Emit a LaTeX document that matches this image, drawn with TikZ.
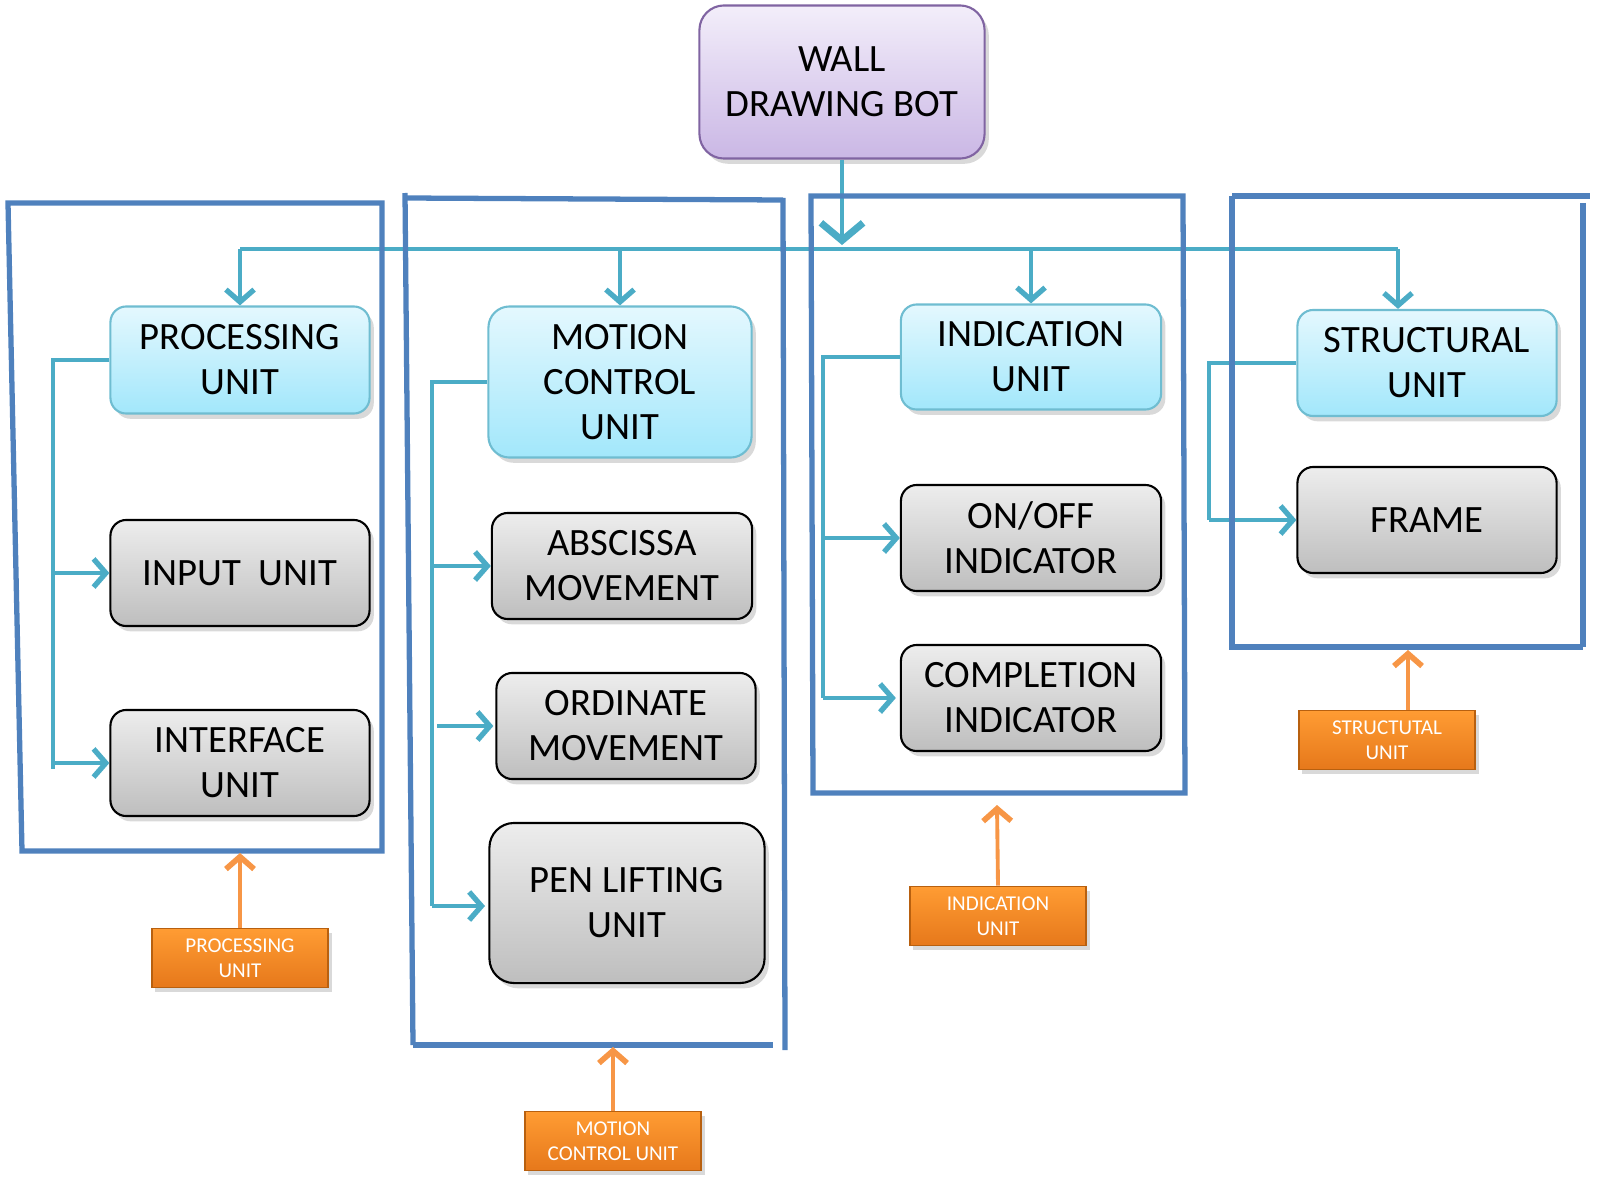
\documentclass[tikz,border=0pt]{standalone}
\usepackage{fontspec}
\setmainfont{Carlito}
\usetikzlibrary{arrows.meta,shadows,calc}
\definecolor{frameblue}{HTML}{4F81BD}
\definecolor{cyanline}{HTML}{4BACC6}
\definecolor{cyanTop}{HTML}{E4F8FE}
\definecolor{cyanBot}{HTML}{A2E7FB}
\definecolor{grayTop}{HTML}{EDEDED}
\definecolor{grayBot}{HTML}{BEBEBE}
\definecolor{purpTop}{HTML}{F3EEFA}
\definecolor{purpBot}{HTML}{CAB7E5}
\definecolor{purpEdge}{HTML}{8064A2}
\definecolor{orTop}{HTML}{FF9C33}
\definecolor{orBot}{HTML}{E6781B}
\definecolor{orEdge}{HTML}{B8600F}
\definecolor{orArrow}{HTML}{F79646}
\begin{document}
\begin{tikzpicture}[x=0.01cm,y=-0.01cm,
  box/.style={rectangle, rounded corners=4.5pt, align=center, inner sep=0pt,
    font=\fontsize{11}{12.8}\selectfont,
    drop shadow={shadow xshift=1.2pt, shadow yshift=-1.5pt, opacity=0.3}},
  cyanbox/.style={box, draw=cyanline!80, line width=0.6pt, top color=cyanTop, bottom color=cyanBot},
  graybox/.style={box, draw=black, line width=0.6pt, top color=grayTop, bottom color=grayBot},
  purplebox/.style={box, rounded corners=7pt, draw=purpEdge, line width=0.6pt, top color=purpTop, bottom color=purpBot},
  orangebox/.style={rectangle, align=center, inner sep=0pt, text=white,
    font=\fontsize{6}{7}\selectfont, draw=orEdge, line width=0.5pt,
    top color=orTop, bottom color=orBot,
    drop shadow={shadow xshift=1pt, shadow yshift=-1.2pt, opacity=0.3},
    minimum width=1.76cm, minimum height=0.59cm},
  conn/.style={draw=cyanline, line width=1pt},
  arr/.style={conn, -{Straight Barb[length=3.5pt,width=8pt,line width=1.5pt]}},
  bigarr/.style={draw=cyanline, line width=1.3pt, -{Straight Barb[length=5pt,width=12pt,line width=2pt]}},
  oarr/.style={draw=orArrow, line width=1.1pt, -{Straight Barb[length=3.5pt,width=8pt,line width=1.6pt]}},
  frm/.style={draw=frameblue, line width=1.5pt}
]
\useasboundingbox (0,0) rectangle (1597,1194);

% main nodes
\node[purplebox, minimum width=2.85cm, minimum height=1.53cm] (wall) at (842,82) {WALL\\DRAWING BOT};

\node[cyanbox, minimum width=2.59cm, minimum height=1.07cm] (pu) at (240,360) {PROCESSING\\UNIT};
\node[graybox, minimum width=2.59cm, minimum height=1.06cm] (iu) at (240,573) {INPUT~~UNIT};
\node[graybox, minimum width=2.59cm, minimum height=1.06cm] (ifu) at (240,763) {INTERFACE\\UNIT};

\node[cyanbox, rounded corners=6pt, minimum width=2.63cm, minimum height=1.51cm] (mcu) at (620,382) {MOTION\\CONTROL\\UNIT};
\node[graybox, minimum width=2.60cm, minimum height=1.06cm] (abs) at (622,566) {ABSCISSA\\MOVEMENT};
\node[graybox, minimum width=2.59cm, minimum height=1.06cm] (ord) at (626,726) {ORDINATE\\MOVEMENT};
\node[graybox, rounded corners=7pt, minimum width=2.75cm, minimum height=1.60cm] (pen) at (627,903) {PEN LIFTING\\UNIT};

\node[cyanbox, minimum width=2.60cm, minimum height=1.05cm] (ind) at (1031,357) {INDICATION\\UNIT};
\node[graybox, minimum width=2.60cm, minimum height=1.06cm] (onoff) at (1031,538) {ON/OFF\\INDICATOR};
\node[graybox, minimum width=2.60cm, minimum height=1.06cm] (comp) at (1031,698) {COMPLETION\\INDICATOR};

\node[cyanbox, minimum width=2.59cm, minimum height=1.06cm] (str) at (1427,363) {STRUCTURAL\\UNIT};
\node[graybox, minimum width=2.59cm, minimum height=1.06cm] (frame) at (1427,520) {FRAME};

% orange labels
\node[orangebox] (opu) at (240,958) {PROCESSING\\UNIT};
\node[orangebox] (omc) at (613,1141) {MOTION\\CONTROL UNIT};
\node[orangebox] (oind) at (998,916) {INDICATION\\UNIT};
\node[orangebox] (ostr) at (1387,740) {STRUCTUTAL\\UNIT};

% top distribution bus
\coordinate (busL) at (240,249);
\coordinate (busR) at (1398,249);
\draw[conn] (busL) -- (busR);
\draw[bigarr] (wall.south) -- ($(wall.south |- busL)+(0,-4)$);
\draw[arr] (busL) -- (pu.north);
\draw[arr] (mcu.north |- busL) -- (mcu.north);
\draw[arr] (ind.north |- busL) -- (ind.north);
\draw[arr] (busR) -- (busR |- str.north);

% processing column
\coordinate (pb) at (53,360);
\draw[conn] (pu.west) -- (pb) -- (53,769);
\draw[arr] (pb |- iu.west) -- (iu.west);
\draw[arr] (pb |- ifu.west) -- (ifu.west);

% motion column
\coordinate (mb) at (432,382);
\draw[conn] (mcu.west) -- (mb) -- (432,906);
\draw[arr] (mb |- abs.west) -- (abs.west);
\draw[arr] ($(mb |- ord.west)+(5,0)$) -- ($(ord.west)+(-2,0)$);
\draw[arr] (432,906) -- (485,906);

% indication column
\coordinate (ib) at (823,357);
\draw[conn] (ind.west) -- (ib) -- (823,698);
\draw[arr] (ib |- onoff.west) -- (onoff.west);
\draw[arr] (ib |- comp.west) -- ($(comp.west)+(-4,0)$);

% structural column
\coordinate (sb) at (1209,363);
\draw[conn] (str.west) -- (sb) -- (1209,520);
\draw[arr] (sb |- frame.west) -- (frame.west);

% frames
\draw[frm] (8,203) -- (382,203) -- (382,851) -- (22,851) -- cycle;
\draw[frm] (405,193) -- (413,1045);
\draw[frm] (405,198) -- (783,200);
\draw[frm] (783,198) -- (785,1050);
\draw[frm] (413,1045) -- (773,1045);
\draw[frm] (811,196) -- (1183,196) -- (1185,793) -- (813,793) -- cycle;
\draw[frm] (1232,196) -- (1590,196);
\draw[frm] (1583,203) -- (1583,647);
\draw[frm] (1232,196) -- (1232,647) -- (1583,647);

% orange arrows
\coordinate (f1) at (240,853);
\coordinate (f2) at (613,1047);
\coordinate (f3) at (997,805);
\coordinate (f4) at (1408,650);
\draw[oarr] (opu.north) -- (f1);
\draw[oarr] (omc.north) -- (f2);
\draw[oarr] (oind.north) -- (f3);
\draw[oarr] (ostr.north -| f4) -- (f4);
\end{tikzpicture}
\end{document}
